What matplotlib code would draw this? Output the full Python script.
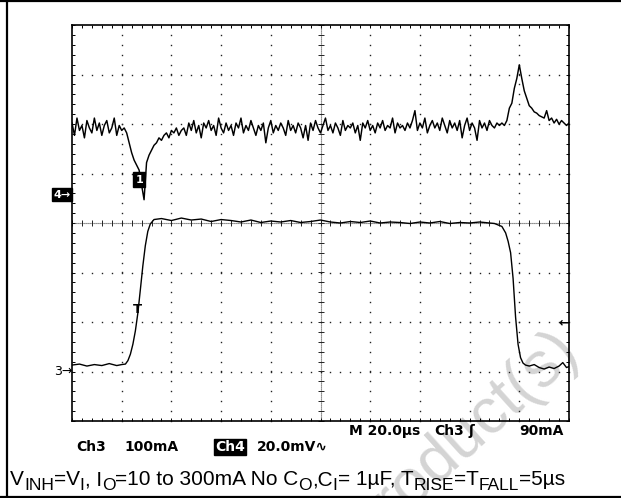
import numpy as np
import matplotlib
matplotlib.use("Agg")
import matplotlib.pyplot as plt
from matplotlib.lines import Line2D

# ---------------- data ----------------
# time base: 20 us/div, 10 divisions
time_per_div_us = 20.0
# Ch3: load current, 100 mA/div, ground marker 3 div below centre
ch3_per_div_mA = 100.0
ch3_ground_div = -3.0
ch3_t_us = [0, 3, 6, 9, 12, 15, 18, 20,
            21.5, 22.5, 23.5, 24.5, 25.5, 26.5, 27.5, 28.5, 29.5, 30.5, 31.5, 33,
            36, 40, 44, 48, 52, 56, 60, 64, 68, 72, 76, 80, 84, 88, 92, 96, 100,
            104, 108, 112, 116, 120, 124, 128, 132, 136, 140, 144, 148, 152, 156,
            160, 164, 168, 170,
            171.5, 173, 174.5, 175.5, 176.5, 177.5, 178.5, 179.5, 180.5, 181.5, 182.5,
            184, 186, 188, 190, 192, 194, 196, 197.5, 199, 200]
ch3_mA = [13, 15, 11, 14, 12, 16, 12, 14,
          15, 22, 35, 55, 82, 118, 165, 213, 254, 283, 298, 307,
          309, 305, 310, 306, 308, 303, 307, 305, 302, 306, 301, 304, 302, 305, 301, 303, 306,
          302, 300, 303, 301, 304, 300, 302, 301, 299, 302, 300, 303, 299, 301,
          300, 302, 300, 299,
          296, 293, 280, 263, 240, 188, 110, 55, 28, 17, 13,
          11, 14, 8, 5, 9, 6, 11, 18, 8, 10]

# Ch4: output voltage (AC), 20 mV/div, ground marker 0.57 div above centre
ch4_per_div_mV = 20.0
ch4_ground_div = 0.57
ch4_step_us = 1.0
ch4_mV = [29, 24, 31, 26, 28, 23, 30, 27, 25, 31, 26, 29, 24, 28, 30, 25, 27, 31, 24, 28, 26, 27,
          25, 21, 17, 14, 12, 10, 4, -2, 13, 16, 18, 20, 21, 23, 22, 24, 25, 23, 26, 25, 27, 24, 26,
          27, 24, 29, 26, 30, 25, 28, 23, 29, 27,
          30, 26, 28, 24, 31, 27, 25, 29, 26, 28,
          24, 29, 27, 31, 25, 28, 26, 30, 27, 24,
          28, 26, 29, 21, 27, 30, 25, 28, 26, 29,
          27, 24, 30, 26, 28, 25, 29, 27, 23, 28,
          22, 29, 26, 30, 27, 25, 28, 31, 26, 28,
          25, 29, 27, 24, 30, 26, 28, 27, 29, 25,
          28, 22, 29, 27, 30, 26, 28, 25, 29, 27,
          30, 26, 28, 27, 31, 25, 29, 27, 28, 26,
          29, 27, 30, 34, 26, 29, 27, 31, 25, 28,
          30, 27, 29, 26, 31, 28, 25, 30, 27, 29,
          26, 30, 23, 28, 31, 26, 29, 27, 22, 30,
          27, 29, 26, 30, 28, 27, 29, 28, 29,
          28, 30, 35, 37, 43, 47, 52.5, 47, 42, 39, 36, 35, 33.5, 33, 32, 31.5, 31, 34,
          30, 31, 29, 30.5, 28.5, 30, 29, 28, 29]

trigger_time_us = 26.4
trigger_mark_mA = 125
trigger_level_div = -2.02

readout_row1 = ["M 20.0\u00b5s", "Ch3", "\u0283", "90mA"]
readout_row2 = ["Ch3", "100mA", "Ch4", "20.0mV\u223f"]
# caption pieces: (text, is_subscript)
caption_parts = [("V", 0), ("INH", 1), ("=V", 0), ("I", 1), (", I", 0), ("O", 1),
                 ("=10 to 300mA No C", 0), ("O", 1), (",C", 0), ("I", 1),
                 ("= 1\u00b5F, T", 0), ("RISE", 1), ("=T", 0), ("FALL", 1), ("=5\u00b5s", 0)]
watermark = "Product(s)"

# ---------------- figure ----------------
W, H = 621, 498
fig = plt.figure(figsize=(W / 100, H / 100), dpi=100)
fig.patch.set_facecolor('white')


def px(x, y):
    return x / W, 1 - y / H


L, R, T, B = 72, 569, 25, 421
ax = fig.add_axes([L / W, 1 - B / H, (R - L) / W, (B - T) / H])
ax.set_facecolor('none')
xmax = 10 * time_per_div_us
ax.set_xlim(0, xmax)
ax.set_ylim(-4, 4)
for s in ax.spines.values():
    s.set_linewidth(1.2)
ax.set_xticks(np.arange(0, xmax + 0.1, time_per_div_us))
ax.set_xticks(np.arange(0, xmax + 0.1, time_per_div_us / 5), minor=True)
ax.set_yticks(np.arange(-4, 4.01, 1))
ax.set_yticks(np.arange(-4, 4.01, 0.2), minor=True)
ax.tick_params(which='both', direction='in', length=2.3, width=0.7,
               top=True, right=True, labelbottom=False, labelleft=False)

# graticule dots
xminor = np.arange(0, xmax + 0.1, time_per_div_us / 5)
yminor = np.arange(-4, 4.01, 0.2)
for gx in np.arange(time_per_div_us, xmax, time_per_div_us):
    if abs(gx - xmax / 2) < 1e-6:
        continue
    ax.plot(np.full_like(yminor, gx), yminor, ls='none', marker='s', ms=1.0,
            mew=0, color='#222222', clip_on=False)
for gy in range(-3, 4):
    if gy == 0:
        continue
    ax.plot(xminor, np.full_like(xminor, gy), ls='none', marker='s', ms=1.0,
            mew=0, color='#222222', clip_on=False)
# centre lines with ticks
ax.axvline(xmax / 2, ls=(0, (0.8, 1.0)), lw=0.8, color='#222222')
ax.axhline(0, ls=(0, (0.8, 1.0)), lw=0.8, color='#222222')
ax.plot(np.full_like(yminor, xmax / 2), yminor, ls='none', marker='_', ms=4,
        mew=0.7, color='#222222')
ax.plot(xminor, np.zeros_like(xminor), ls='none', marker='|', ms=4,
        mew=0.7, color='#222222')

# traces
ch3_div = ch3_ground_div + np.array(ch3_mA) / ch3_per_div_mA
ax.plot(ch3_t_us, ch3_div, color='black', lw=1.0)
ch4_t = np.arange(len(ch4_mV)) * ch4_step_us
ch4_div = ch4_ground_div + np.array(ch4_mV) / ch4_per_div_mV
ax.plot(ch4_t, ch4_div, color='black', lw=1.05)

# markers
mono = 'DejaVu Sans'
ax.text(-0.003, ch4_ground_div, "4\u2192", transform=ax.get_yaxis_transform(),
        ha='right', va='center', fontsize=8, color='white', fontweight='bold',
        family=mono, bbox=dict(boxstyle='square,pad=0.15', fc='black', ec='black'))
ax.text(0, ch3_ground_div, "3\u2192", transform=ax.get_yaxis_transform(),
        ha='right', va='center', fontsize=9, color='black', family=mono)
ax.text(1, trigger_level_div, "\u2190", transform=ax.get_yaxis_transform(),
        ha='right', va='center', fontsize=9, color='black', fontweight='bold', family=mono)
ax.text(trigger_time_us, ch3_ground_div + trigger_mark_mA / ch3_per_div_mA, "T",
        ha='center', va='center', fontsize=9.5, fontweight='bold', color='black', family=mono)
ax.text(27.0, ch4_ground_div + 6 / ch4_per_div_mV, "1", ha='center', va='center',
        fontsize=8, color='white', fontweight='bold', family=mono,
        bbox=dict(boxstyle='square,pad=0.22', fc='black', ec='black'))

# readouts
bold = dict(fontsize=10, fontweight='bold', family='DejaVu Sans', va='baseline', ha='left')
for txt, x in zip(readout_row1, [349, 434, 468, 519]):
    fig.text(*px(x, 435), txt, **bold)
fig.text(*px(76, 451), readout_row2[0], **bold)
fig.text(*px(124, 451), readout_row2[1], **bold)
fig.text(*px(215, 451), readout_row2[2], color='white',
         bbox=dict(boxstyle='square,pad=0.05', fc='black', ec='black'), **bold)
fig.text(*px(257, 451), readout_row2[3], **bold)

# caption, built piece by piece so subscripts keep the reference's size
renderer = fig.canvas.get_renderer()
cx = 10.0
base_y = 485.0
for txt, sub in caption_parts:
    size = 12.5 if sub else 15
    yy = base_y + (5 if sub else 0)
    t = fig.text(*px(cx, yy), txt, fontsize=size, family='Liberation Sans',
                 ha='left', va='baseline')
    bb = t.get_window_extent(renderer)
    cx = bb.x1

# watermark
fig.text(*px(460, 438), watermark, rotation=42, color='#d4d4d4', fontsize=46,
         family='Liberation Sans', ha='center', va='center', zorder=-5)

# outer frame
for xs, ys in [([0, W], [1.5, 1.5]), ([7, 7], [0, H]), ([0, W], [496.5, 496.5])]:
    fig.add_artist(Line2D([x / W for x in xs], [1 - y / H for y in ys],
                          transform=fig.transFigure, color='black', lw=1.6))

fig.savefig("out.png", dpi=100)
